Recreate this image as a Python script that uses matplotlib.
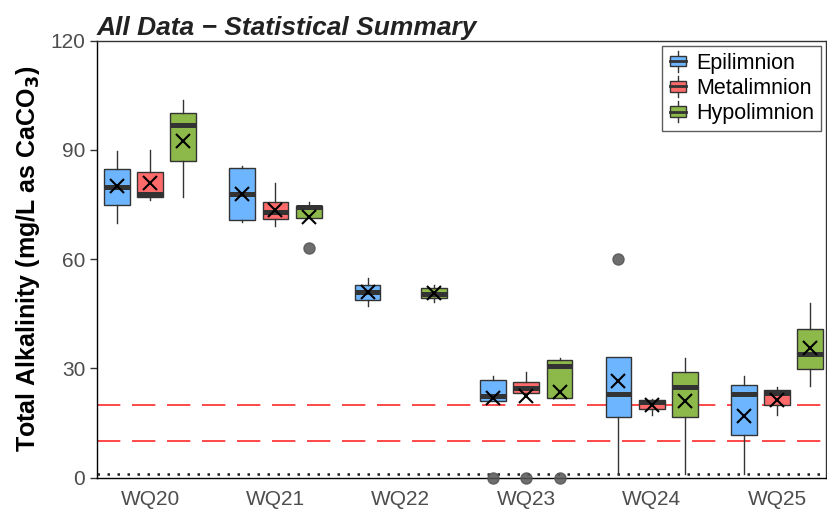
import matplotlib
matplotlib.use("Agg")
import matplotlib.pyplot as plt
from matplotlib.legend_handler import HandlerBase
from matplotlib.patches import Rectangle, Patch
from matplotlib.lines import Line2D

plt.rcParams['font.family'] = ['Liberation Sans', 'DejaVu Sans']

groups = ["WQ20", "WQ21", "WQ22", "WQ23", "WQ24", "WQ25"]
layers = ["Epilimnion", "Metalimnion", "Hypolimnion"]
colors = ["#6DB6FF", "#FF6B6B", "#8DB84A"]

# box stats (None = no data for that site)
epi_q1 = [74.9, 70.8, 48.9, 20.9, 16.6, 11.7]
epi_med = [79.9, 78.0, 50.9, 22.5, 23.0, 23.0]
epi_q3 = [84.8, 85.1, 53.0, 26.8, 33.0, 25.4]
epi_lo = [70.0, 70.1, 47.0, 20.9, 1.0, 1.0]
epi_hi = [89.8, 85.7, 54.8, 27.8, 33.0, 27.8]
epi_mean = [80.0, 78.0, 51.0, 21.9, 26.6, 16.8]
epi_out = [[], [], [], [0], [60], []]

met_q1 = [77.0, 70.9, None, 23.2, 18.9, 20.0]
met_med = [77.8, 73.0, None, 24.6, 20.8, 23.2]
met_q3 = [84.0, 75.7, None, 26.3, 21.4, 24.0]
met_lo = [76.2, 69.0, None, 23.2, 17.1, 17.1]
met_hi = [90.0, 80.8, None, 28.9, 21.5, 24.8]
met_mean = [81.0, 73.6, None, 22.5, 20.0, 21.4]
met_out = [[], [], [], [0], [], []]

hyp_q1 = [86.9, 71.2, 49.3, 21.8, 16.6, 29.7]
hyp_med = [96.9, 74.2, 50.5, 30.6, 25.0, 34.0]
hyp_q3 = [100.3, 74.5, 52.0, 32.2, 29.1, 40.9]
hyp_lo = [77.0, 71.2, 48.2, 21.8, 1.0, 25.1]
hyp_hi = [103.8, 75.8, 52.8, 32.8, 32.9, 48.0]
hyp_mean = [92.6, 71.5, 50.7, 23.4, 21.0, 35.6]
hyp_out = [[], [63], [], [0], [], []]

ref_lines = [20, 10]
detect_limit = 1

series = [
    (epi_q1, epi_med, epi_q3, epi_lo, epi_hi, epi_mean, epi_out),
    (met_q1, met_med, met_q3, met_lo, met_hi, met_mean, met_out),
    (hyp_q1, hyp_med, hyp_q3, hyp_lo, hyp_hi, hyp_mean, hyp_out),
]


class BoxHandler(HandlerBase):
    def create_artists(self, legend, orig_handle, xdescent, ydescent, width, height, fontsize, trans):
        cx = width / 2 - xdescent
        bw = width * 0.8
        bh = height * 0.7
        y0 = -ydescent + (height - bh) / 2
        whisk = Line2D([cx, cx], [-ydescent - height * 0.2, -ydescent + height * 1.2],
                       color="#333333", lw=1, transform=trans)
        box = Rectangle((cx - bw / 2, y0), bw, bh, facecolor=orig_handle.get_facecolor(),
                        edgecolor="#333333", lw=1, transform=trans)
        med = Line2D([cx - bw / 2, cx + bw / 2], [y0 + bh / 2] * 2, color="#333333", lw=2, transform=trans)
        return [whisk, box, med]


fig = plt.figure(figsize=(8.27, 5.16), dpi=100)
ax = fig.add_axes([0.1173, 0.0746, 0.8815, 0.8463])

offsets = [-0.265, 0.0, 0.265]
for k, (q1, med, q3, lo, hi, mean, out) in enumerate(series):
    stats, pos = [], []
    for i in range(len(groups)):
        if med[i] is None:
            continue
        stats.append(dict(q1=q1[i], med=med[i], q3=q3[i], whislo=lo[i], whishi=hi[i],
                          mean=mean[i], fliers=out[i]))
        pos.append(i + offsets[k])
    bp = ax.bxp(stats, positions=pos, widths=0.205, patch_artist=True, showmeans=True, showcaps=False,
                boxprops=dict(facecolor=colors[k], edgecolor="#333333", lw=1),
                medianprops=dict(color="#333333", lw=3.6, solid_capstyle="butt"),
                whiskerprops=dict(color="#333333", lw=1),
                meanprops=dict(marker="x", markeredgecolor="black", markersize=10, markeredgewidth=1.5),
                flierprops=dict(marker="o", markerfacecolor="#555555", markeredgecolor="#555555",
                                markersize=8, alpha=0.85),
                zorder=3)
    for f in bp["fliers"]:
        f.set_clip_on(False)
        f.set_zorder(4)

for y in ref_lines:
    ax.axhline(y, color="#FF2A2A", lw=1.2, linestyle=(0, (14, 7)), zorder=1)
ax.axhline(detect_limit, color="#222222", lw=1.8, linestyle=(0, (1, 3)), zorder=1)

ax.set_xlim(-0.423, 5.39)
ax.set_ylim(0, 120)
ax.set_yticks([0, 30, 60, 90, 120])
ax.set_xticks(range(len(groups)))
ax.set_xticklabels(groups)
ax.tick_params(axis="x", length=0, pad=9, labelsize=15, labelcolor="#4D4D4D")
ax.tick_params(axis="y", length=5, width=1, pad=3.5, labelsize=15, labelcolor="#4D4D4D", color="#333333")
for s in ax.spines.values():
    s.set_color("#333333")
    s.set_linewidth(1)
ax.spines["left"].set_color("black")
ax.spines["bottom"].set_color("black")

ax.set_ylabel("Total Alkalinity (mg/L as CaCO$_\\mathbf{3}$)", fontsize=18, fontweight="bold", labelpad=6)
ax.set_title("All Data \u2212 Statistical Summary", loc="left", fontsize=19, fontweight="bold",
             fontstyle="italic", color="#222222", pad=4)

handles = [Patch(facecolor=c) for c in colors]
leg = ax.legend(handles, layers, loc="upper right", fontsize=15.5, frameon=True, fancybox=False,
                edgecolor="#333333", handler_map={Patch: BoxHandler()}, handlelength=0.9,
                handleheight=0.7, handletextpad=0.4, borderaxespad=0.25, labelspacing=0.2,
                borderpad=0.3)
leg.get_frame().set_linewidth(1)

fig.savefig("out.png", dpi=100)
